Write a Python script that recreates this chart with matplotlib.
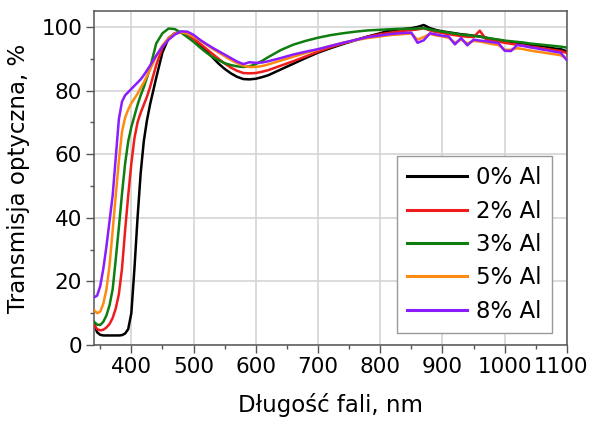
"""
Optical transmission of Al-doped films vs. wavelength (0-8 % Al).
Run: python plot.py  ->  out.png
"""

import matplotlib.pyplot as plt
from matplotlib.transforms import ScaledTranslation

# wavelength grid, nm
WAVELENGTH = (
    list(range(340, 431, 5))
    + list(range(440, 621, 10))
    + list(range(640, 801, 20))
    + list(range(810, 1101, 10))
)

# transmission, %
T_0_AL = [
    6.8, 4.0, 3.2, 3.0, 3.0, 3.0, 3.0, 3.0, 3.0, 3.1, 3.6, 5.0, 10.0, 24.0, 40.0, 54.0, 64.0, 70.5, 75.5,
    84.0, 92.0, 96.5, 98.0, 98.4, 97.8, 96.3, 94.5, 92.5, 90.5, 88.5, 86.8, 85.4, 84.3, 83.6, 83.5, 83.7, 84.2, 84.8,
    86.6, 88.4, 90.2, 91.9, 93.3, 94.6, 95.8, 97.0, 98.0,
    98.6, 98.9, 99.2, 99.4, 99.6, 100.0, 100.6, 99.6, 99.0, 98.6, 98.3, 98.0, 97.7, 97.5, 97.2,
    97.0, 96.6, 96.2, 95.9, 95.5, 95.3, 95.0, 94.8, 94.4, 94.1, 94.0, 93.6, 93.2, 93.0, 92.3,
]
T_2_AL = [
    6.3, 5.0, 4.6, 4.8, 5.5, 6.6, 8.5, 11.5, 16.0, 24.0, 36.0, 47.0, 57.0, 65.0, 70.0, 73.0, 75.5, 78.0, 81.0,
    88.0, 93.5, 96.5, 98.0, 98.3, 97.5, 96.2, 94.8, 93.2, 91.6, 90.0, 88.5, 87.2, 86.2, 85.5, 85.4, 85.5, 85.9, 86.4,
    87.8, 89.2, 90.7, 92.2, 93.6, 94.8, 95.9, 96.9, 97.7,
    98.0, 98.3, 98.5, 98.8, 99.0, 99.2, 99.6, 98.9, 98.4, 98.1, 97.7, 97.4, 97.1, 96.9, 96.8,
    98.8, 96.1, 95.7, 95.4, 95.0, 94.7, 94.4, 94.2, 93.8, 93.6, 93.3, 93.0, 92.7, 92.4, 91.8,
]
T_3_AL = [
    7.3, 6.4, 6.3, 7.3, 9.3, 12.5, 17.5, 27.0, 37.0, 47.5, 57.0, 64.0, 68.5, 72.0, 75.5, 78.5, 81.0, 84.0, 87.0,
    94.8, 98.0, 99.5, 99.3, 98.2, 96.8, 95.3, 93.6, 92.0, 90.6, 89.5, 88.6, 88.0, 87.6, 87.4, 87.6, 88.3, 89.3, 90.5,
    92.7, 94.4, 95.6, 96.6, 97.4, 98.0, 98.5, 98.9, 99.1,
    99.2, 99.3, 99.4, 99.4, 99.4, 99.5, 99.6, 99.2, 98.8, 98.5, 98.2, 97.9, 97.6, 97.4, 97.2,
    96.9, 96.6, 96.3, 96.0, 95.7, 95.5, 95.3, 95.1, 94.8, 94.6, 94.4, 94.2, 94.0, 93.8, 93.5,
]
T_5_AL = [
    11.0, 10.0, 10.5, 13.0, 17.5, 25.0, 36.0, 47.0, 58.0, 67.0, 71.5, 74.0, 76.0, 77.5, 79.0, 80.8, 82.5, 84.5, 86.5,
    90.8, 94.2, 96.5, 97.9, 98.3, 97.9, 96.9, 95.8, 94.5, 93.2, 92.0, 90.8, 89.6, 88.6, 87.8, 87.4, 87.4, 87.7, 88.2,
    89.4, 90.6, 91.8, 92.9, 94.0, 95.0, 95.8, 96.5, 97.0,
    97.3, 97.5, 97.6, 97.8, 97.9, 96.0, 96.8, 97.8, 97.3, 97.0, 96.6, 95.0, 96.0, 94.8, 95.6,
    95.4, 95.0, 94.6, 94.3, 92.8, 92.8, 93.3, 93.0, 92.6, 92.3, 92.0, 91.7, 91.4, 91.1, 90.0,
]
T_8_AL = [
    15.0, 15.5, 18.5, 24.0, 31.0, 39.0, 47.0, 59.0, 71.0, 76.5, 78.5, 79.5, 80.5, 81.5, 82.5, 83.5, 84.8, 86.3, 87.8,
    91.0, 93.8, 96.0, 97.6, 98.6, 98.5, 97.5, 96.0, 94.7, 93.5, 92.4, 91.3, 90.2, 89.1, 88.3, 88.9, 88.7, 88.8, 89.2,
    90.2, 91.3, 92.2, 93.0, 94.0, 95.0, 95.9, 96.8, 97.3,
    97.6, 97.8, 98.0, 98.1, 98.2, 95.0, 95.8, 98.0, 97.6, 97.2, 97.0, 94.5, 96.5, 94.2, 96.0,
    95.7, 95.5, 95.2, 94.9, 92.5, 92.4, 94.3, 94.0, 93.6, 93.3, 92.9, 92.6, 92.2, 91.9, 89.5,
]

SERIES = [
    ("0% Al", T_0_AL, "#000000"),
    ("2% Al", T_2_AL, "#ee1c1c"),
    ("3% Al", T_3_AL, "#0f7d0f"),
    ("5% Al", T_5_AL, "#ff8a10"),
    ("8% Al", T_8_AL, "#8a1cff"),
]

X_TICKS = list(range(400, 1101, 100))
Y_TICKS = list(range(0, 101, 20))

FS = 16.5
TICK_FS = 15.5
plt.rcParams["font.family"] = "DejaVu Sans"
plt.rcParams["font.size"] = FS

fig = plt.figure(figsize=(5.93, 4.23), dpi=100)
ax = fig.add_axes([0.1585, 0.1844, 0.7975, 0.7896])

for i, (label, values, color) in enumerate(SERIES):
    ax.plot(WAVELENGTH, values, color=color, linewidth=1.8, label=label, zorder=2 + i)

ax.set_xlim(340, 1100)
ax.set_ylim(0, 105)
ax.set_xticks(X_TICKS)
ax.set_yticks(Y_TICKS)
ax.set_xticks(range(350, 1100, 100), minor=True)
ax.set_yticks(range(10, 101, 20), minor=True)

ax.grid(True, which="major", color="#d4d4d4", linewidth=1.2, zorder=0)
ax.set_axisbelow(True)

for side in ("left", "bottom", "top", "right"):
    ax.spines[side].set_color("#555555")
    ax.spines[side].set_linewidth(1.1)

ax.tick_params(which="major", direction="out", length=6, width=1.0, color="#555555",
               labelsize=TICK_FS, pad=2.5)
ax.tick_params(which="minor", direction="out", length=3, width=1.0, color="#555555")
ax.tick_params(top=False, right=False, which="both")

ax.set_xlabel("Długość fali, nm", fontsize=FS, labelpad=12)
ax.set_ylabel("Transmisja optyczna, %", fontsize=FS, labelpad=8)

leg = ax.legend(loc="lower right", bbox_to_anchor=(0.968, 0.036), fontsize=FS,
                frameon=True, fancybox=False, edgecolor="#9a9a9a", framealpha=1,
                handlelength=2.6, handletextpad=0.4, labelspacing=0.45,
                borderpad=0.45, borderaxespad=0)
leg.get_frame().set_linewidth(1.0)
for line in leg.get_lines():
    line.set_linewidth(2.2)

# nudge the last x label so it stays inside the picture
last = ax.get_xticklabels()[-1]
last.set_transform(last.get_transform() + ScaledTranslation(-6 / 100, 0, fig.dpi_scale_trans))

fig.savefig("out.png", dpi=100)
